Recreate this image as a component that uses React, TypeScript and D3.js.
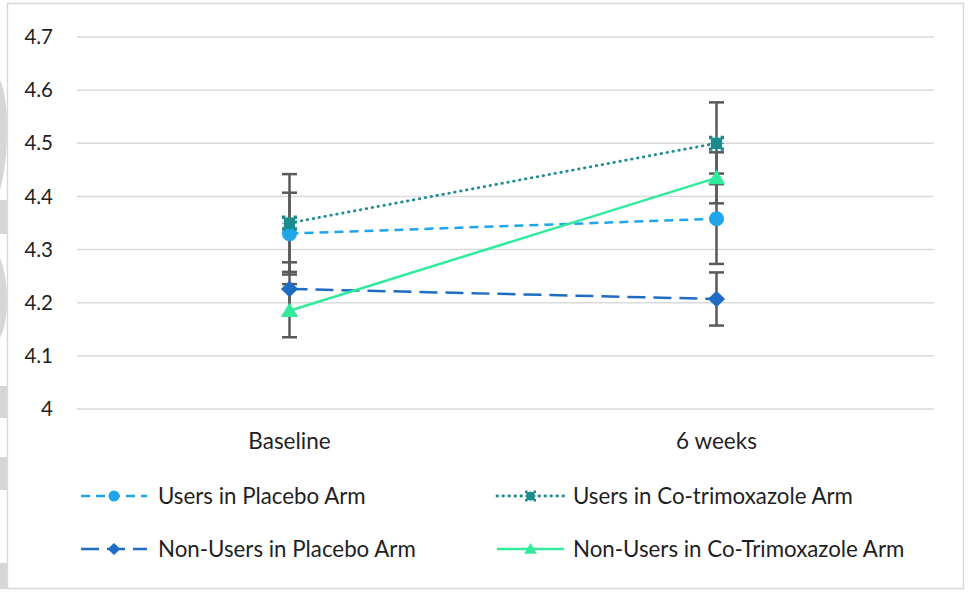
import * as d3 from 'd3'

const categories = ['Baseline', '6 weeks']
const yTicks = [4, 4.1, 4.2, 4.3, 4.4, 4.5, 4.6, 4.7]

const usersPlacebo = [4.33, 4.358]
const usersPlaceboErr = [0.077, 0.085]
const usersCotri = [4.35, 4.5]
const usersCotriErr = [0.092, 0.077]
const nonUsersPlacebo = [4.226, 4.207]
const nonUsersPlaceboErr = [0.05, 0.05]
const nonUsersCotri = [4.185, 4.435]
const nonUsersCotriErr = [0.05, 0.048]

type Series = {
  name: string
  values: number[]
  errors: number[]
  color: string
  dash: string
  marker: 'circle' | 'star' | 'diamond' | 'triangle'
}

const series: Series[] = [
  { name: 'Users in Placebo Arm', values: usersPlacebo, errors: usersPlaceboErr, color: '#1ea6e8', dash: '9,6', marker: 'circle' },
  { name: 'Users in Co-trimoxazole Arm', values: usersCotri, errors: usersCotriErr, color: '#1b8b8d', dash: '0.5,5.5', marker: 'star' },
  { name: 'Non-Users in Placebo Arm', values: nonUsersPlacebo, errors: nonUsersPlaceboErr, color: '#1f6cc2', dash: '18,8', marker: 'diamond' },
  { name: 'Non-Users in Co-Trimoxazole Arm', values: nonUsersCotri, errors: nonUsersCotriErr, color: '#30eb9c', dash: '', marker: 'triangle' },
]

const FONT = 'Lato, "Open Sans", sans-serif'

const starPath = (r: number) => {
  const n = r * 0.25
  const a = r * 0.3
  const pts: [number, number][] = []
  // notched square, walk each side
  const side = (fx: (t: number) => [number, number], inward: [number, number]) => {
    const seq = [-r, -a - n, -a - n, -a + n, -a + n, a - n, a - n, a + n, a + n]
    const notch = [0, 0, 1, 1, 0, 0, 1, 1, 0]
    seq.forEach((t, i) => {
      const [x, y] = fx(t)
      pts.push([x + inward[0] * n * notch[i], y + inward[1] * n * notch[i]])
    })
  }
  side(t => [t, -r], [0, 1])
  side(t => [r, t], [-1, 0])
  side(t => [-t, r], [0, -1])
  side(t => [-r, -t], [1, 0])
  return 'M' + pts.map(p => p.join(',')).join('L') + 'Z'
}

const markerPath = (m: Series['marker'], s: number) => {
  if (m === 'circle') return d3.symbol(d3.symbolCircle, Math.PI * s * s)()
  if (m === 'diamond') return `M0,${-s * 1.1}L${s * 1.15},0L0,${s * 1.1}L${-s * 1.15},0Z`
  if (m === 'triangle') return `M0,${-s * 1.1}L${s * 1.15},${s * 0.85}L${-s * 1.15},${s * 0.85}Z`
  return starPath(s)
}

const App = () => {
  const width = 969
  const height = 592

  const x = d3.scalePoint<string>().domain(categories).range([76, 930]).padding(0.5)
  const y = d3.scaleLinear().domain([4, 4.7]).range([409, 37])

  const line = d3.line<number>()
    .x((_, i) => x(categories[i]) as number)
    .y(d => y(d))

  const legendPos = [
    { x0: 81, x1: 147, tx: 158, y: 496 },
    { x0: 497, x1: 564, tx: 573, y: 496 },
    { x0: 81, x1: 147, tx: 158, y: 549 },
    { x0: 497, x1: 564, tx: 573, y: 549 },
  ]

  return (
    <svg width={width} height={height} style={{ position: 'absolute', left: 0, top: 0, background: '#fff' }}>
      {/* watermark scraps at the left edge */}
      <g fill="#d6d6d6">
        <path d="M0,80 Q7,95 7,130 Q7,165 0,190 Z" />
        <rect x={0} y={200} width={7} height={34} />
        <path d="M0,258 Q7,275 7,300 Q7,325 0,338 Z" />
        <rect x={0} y={386} width={7} height={32} />
        <rect x={0} y={457} width={7} height={33} />
        <rect x={0} y={563} width={7} height={26} />
      </g>
      <rect x={7.5} y={3.5} width={956} height={585} fill="none" stroke="#d9d9d9" strokeWidth={1.5} />

      {/* gridlines and y labels */}
      {yTicks.map(t => (
        <g key={t}>
          <line x1={77} x2={934} y1={y(t)} y2={y(t)} stroke="#d9d9d9" strokeWidth={1.5} />
          <text x={53} y={y(t)} dy="0.35em" textAnchor="end" fontFamily={FONT} fontSize={20.5} fill="#1f1f1f">
            {d3.format('')(t)}
          </text>
        </g>
      ))}

      {/* x labels */}
      {categories.map(c => (
        <text key={c} x={x(c)} y={441} dy="0.35em" textAnchor="middle" fontFamily={FONT} fontSize={22.5} fill="#1f1f1f">
          {c}
        </text>
      ))}

      {/* error bars */}
      <g stroke="#595959" strokeWidth={2.5}>
        {series.map(s => s.values.map((v, i) => {
          const cx = x(categories[i]) as number
          const hi = y(v + s.errors[i])
          const lo = y(v - s.errors[i])
          return (
            <g key={s.name + i}>
              <line x1={cx} x2={cx} y1={hi} y2={lo} />
              <line x1={cx - 7.5} x2={cx + 7.5} y1={hi} y2={hi} />
              <line x1={cx - 7.5} x2={cx + 7.5} y1={lo} y2={lo} />
            </g>
          )
        }))}
      </g>

      {/* lines */}
      {series.map(s => (
        <path key={s.name} d={line(s.values) || ''} fill="none" stroke={s.color}
          strokeWidth={s.marker === 'star' ? 2.8 : 2.5} strokeDasharray={s.dash}
          strokeLinecap={s.marker === 'star' ? 'round' : 'butt'} />
      ))}

      {/* markers */}
      {series.map(s => s.values.map((v, i) => (
        <path key={s.name + 'm' + i} d={markerPath(s.marker, 7.5) || ''}
          transform={`translate(${x(categories[i])},${y(v)})`} fill={s.color} />
      )))}

      {/* legend */}
      {series.map((s, k) => {
        const p = legendPos[k]
        const mx = (p.x0 + p.x1) / 2
        return (
          <g key={s.name}>
            <line x1={p.x0} x2={p.x1} y1={p.y} y2={p.y} stroke={s.color} strokeWidth={s.marker === 'star' ? 2.8 : 2.5}
              strokeDasharray={s.dash} strokeLinecap={s.marker === 'star' ? 'round' : 'butt'} />
            <path d={markerPath(s.marker, 5.5) || ''} transform={`translate(${mx},${p.y})`} fill={s.color} />
            <text x={p.tx} y={p.y} dy="0.35em" fontFamily={FONT} fontSize={22.3} fill="#1f1f1f">{s.name}</text>
          </g>
        )
      })}
    </svg>
  )
}

export default App
